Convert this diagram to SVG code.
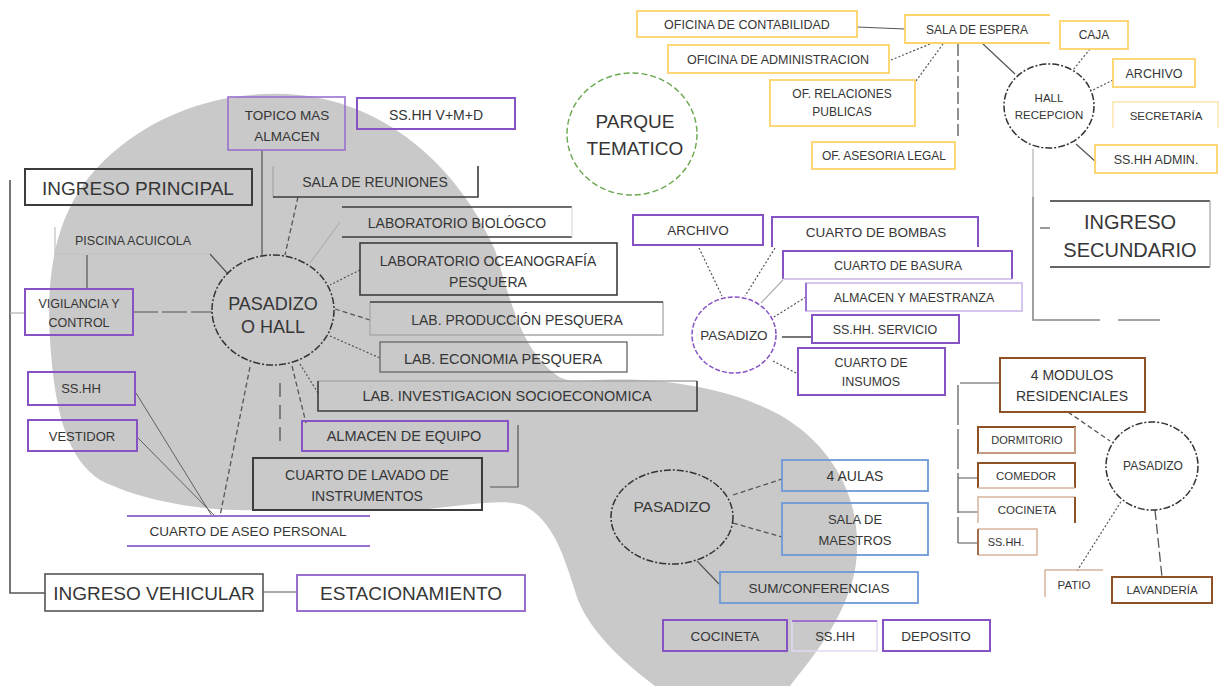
<svg xmlns="http://www.w3.org/2000/svg" width="1224" height="686" viewBox="0 0 1224 686">
<style>
text{font-family:"Liberation Sans",Arial,sans-serif;fill:#363636;text-anchor:middle}
.bk{fill:none;stroke:#3c3c3c;stroke-width:2}
.dg{fill:none;stroke:#555;stroke-width:1.6}
.gr{fill:none;stroke:#a8a8a8;stroke-width:1.3}
.pu{fill:none;stroke:#8753c4;stroke-width:2}
.lp{fill:none;stroke:#c9b3e6;stroke-width:1.5}
.ye{fill:none;stroke:#fdd36a;stroke-width:1.8}
.ly{fill:none;stroke:#fde5ad;stroke-width:1.5}
.bl{fill:none;stroke:#6f98d8;stroke-width:1.8}
.br{fill:none;stroke:#8f5128;stroke-width:2}
.lb{fill:none;stroke:#d6b49c;stroke-width:1.5}
.c{fill:none;stroke:#555;stroke-width:1.2}
.cl{fill:none;stroke:#b0b0b0;stroke-width:1.2}
.cd{fill:none;stroke:#555;stroke-width:1.3;stroke-dasharray:5 3}
.co{fill:none;stroke:#555;stroke-width:1.2;stroke-dasharray:2 2}
.circ{fill:none;stroke:#333;stroke-width:1.5;stroke-dasharray:7 2 2 2}
</style>

<path id="zona" fill="#c9c9c9" d="M50,340 C45,260 60,200 110,155 C160,110 230,88 300,95 C390,105 460,170 495,250 C510,300 520,340 545,365 C555,376 565,382 580,381 C640,376 720,382 780,415 C840,450 865,510 855,570 C845,620 810,660 790,686 L655,686 C620,660 590,630 578,600 C565,560 555,522 525,506 C505,498 470,505 420,510 L260,510 C200,512 140,500 100,480 C70,460 55,420 50,340 Z"/>

<g id="connectors">
  <path class="dg" d="M10,180 V593 H45"/>
  <path class="cl" d="M10,313 H25"/>
  <path class="c" d="M263,592 H297"/>
  <path class="c" d="M262,150 V255"/>
  <path class="cd" d="M298,197 L285,255"/>
  <path class="cl" d="M340,222 L310,263"/>
  <path class="co" d="M360,270 L330,285"/>
  <path class="cd" d="M335,309 L370,320"/>
  <path class="co" d="M330,336 L380,358"/>
  <path class="co" d="M300,364 L318,393"/>
  <path class="cd" d="M292,366 L306,423"/>
  <path class="cd" d="M280,383 V446" style="stroke-dasharray:14 8"/>
  <path class="cd" d="M250,367 L220,516"/>
  <path class="c" d="M136,393 L212,516" style="stroke-width:0.9"/>
  <path class="c" d="M138,438 L215,516" style="stroke-width:0.9"/>
  <path class="c" d="M133,312 H212" style="stroke-dasharray:25 4"/>
  <path class="c" d="M87,255 V289"/>
  <path class="c" d="M210,254 L228,274"/>
  <path class="c" d="M518,425 V487 H490"/>

  <path class="c" d="M857,27 L905,29"/>
  <path class="co" d="M891,60 L930,44"/>
  <path class="co" d="M916,81 L943,44"/>
  <path class="cd" d="M958,44 V140" style="stroke-dasharray:12 4"/>
  <path class="c" d="M982,43 L1015,74"/>
  <path class="co" d="M1090,49 L1073,70"/>
  <path class="co" d="M1113,80 L1093,90"/>
  <path class="c" d="M1076,144 L1096,162"/>
  <path class="cl" d="M1033,149 V197"/>
  <path class="dg" d="M1033,197 V320 H1100 M1118,320 H1160" style="stroke:#888"/>
  <path class="c" d="M1040,228 H1050"/>

  <path class="co" d="M699,248 L722,296"/>
  <path class="co" d="M775,248 L745,296"/>
  <path class="cl" d="M783,280 L761,303"/>
  <path class="co" d="M806,297 L774,317"/>
  <path class="c" d="M782,337 H812" style="stroke-width:1.6"/>
  <path class="co" d="M773,361 L798,374"/>

  <path class="cd" d="M733,495 L782,479"/>
  <path class="cd" d="M733,523 L782,537"/>
  <path class="c" d="M697,561 L719,584"/>

  <path class="c" d="M1000,383 H958 V543" style="stroke-dasharray:40 4"/>
  <path class="c" d="M958,478 H978 M958,512 H978 M958,543 H978"/>
  <path class="cd" d="M1068,412 L1110,441"/>
  <path class="co" d="M1077,571 L1122,500"/>
  <path class="cd" d="M1155,510 L1162,577" style="stroke-dasharray:10 4"/>
</g>

<g id="n-pasadizo-hall">
  <ellipse class="circ" cx="273" cy="310" rx="61" ry="55"/>
  <text x="273" y="310" font-size="18">PASADIZO</text>
  <text x="273" y="333" font-size="18">O HALL</text>
</g>
<g id="n-topico">
  <rect class="pu" x="228" y="97" width="117" height="53" style="stroke:#9a70cf;stroke-width:1.6"/>
  <text x="287" y="120" font-size="13.5">TOPICO MAS</text>
  <text x="287" y="141" font-size="13.5">ALMACEN</text>
</g>
<g id="n-sshh-vmd">
  <rect class="pu" x="357" y="98" width="158" height="31"/>
  <text x="436" y="120" font-size="14">SS.HH V+M+D</text>
</g>
<g id="n-ingreso-principal">
  <rect class="bk" x="25" y="169" width="227" height="36"/>
  <text x="138" y="195" font-size="19">INGRESO PRINCIPAL</text>
</g>
<g id="n-sala-reuniones">
  <path class="gr" d="M273,166 V197"/>
  <path class="bk" d="M273,197 H478 V166" style="stroke-width:1.6"/>
  <text x="375" y="187" font-size="14">SALA DE REUNIONES</text>
</g>
<g id="n-lab-bio">
  <path class="bk" d="M342,207 H572 M342,237 H572" style="stroke-width:1.6"/>
  <path class="gr" d="M572,207 V237" style="stroke:#ddd"/>
  <text x="457" y="228" font-size="14">LABORATORIO BIOLÓGCO</text>
</g>
<g id="n-lab-ocean">
  <rect class="bk" x="360" y="243" width="257" height="52" style="stroke-width:1.6"/>
  <text x="488" y="266" font-size="14">LABORATORIO OCEANOGRAFÍA</text>
  <text x="488" y="287" font-size="14">PESQUERA</text>
</g>
<g id="n-lab-prod">
  <path class="gr" d="M370,302 V335 H663 V302"/>
  <path class="bk" d="M370,302 H663" style="stroke-width:1.6"/>
  <text x="517" y="325" font-size="14">LAB. PRODUCCIÓN PESQUERA</text>
</g>
<g id="n-lab-eco">
  <rect class="dg" x="380" y="342" width="247" height="30" style="stroke:#666;stroke-width:1.3"/>
  <text x="503" y="364" font-size="14.5">LAB. ECONOMIA PESQUERA</text>
</g>
<g id="n-lab-inv">
  <path class="gr" d="M318,381 H697"/>
  <path class="bk" d="M318,381 V411 H697 V381" style="stroke-width:1.6"/>
  <text x="507" y="401" font-size="14.5">LAB. INVESTIGACION SOCIOECONOMICA</text>
</g>
<g id="n-almacen-equipo">
  <rect class="pu" x="302" y="421" width="206" height="30"/>
  <text x="404" y="441" font-size="14.5">ALMACEN DE EQUIPO</text>
</g>
<g id="n-lavado">
  <rect class="bk" x="253" y="458" width="229" height="52"/>
  <text x="367" y="480" font-size="14">CUARTO DE LAVADO DE</text>
  <text x="367" y="501" font-size="14">INSTRUMENTOS</text>
</g>
<g id="n-aseo">
  <path class="pu" d="M127,516 H370 M127,546 H370" style="stroke:#9a70cf"/>
  <text x="248" y="536" font-size="13.5">CUARTO DE ASEO PERSONAL</text>
</g>
<g id="n-sshh-left">
  <rect class="pu" x="28" y="372" width="107" height="33"/>
  <text x="81" y="393" font-size="13">SS.HH</text>
</g>
<g id="n-vestidor">
  <rect class="pu" x="28" y="420" width="109" height="31"/>
  <text x="82" y="441" font-size="13">VESTIDOR</text>
</g>
<g id="n-vigilancia">
  <rect class="pu" x="25" y="289" width="108" height="46"/>
  <text x="79" y="308" font-size="12.5">VIGILANCIA Y</text>
  <text x="79" y="327" font-size="12.5">CONTROL</text>
</g>
<g id="n-piscina">
  <path class="gr" d="M55,227 V254 H210" style="stroke:#c4c4c4"/>
  <text x="133" y="245" font-size="12.5">PISCINA ACUICOLA</text>
</g>
<g id="n-ingreso-vehicular">
  <rect class="dg" x="45" y="574" width="218" height="37"/>
  <text x="154" y="600" font-size="19">INGRESO VEHICULAR</text>
</g>
<g id="n-estacionamiento">
  <rect class="pu" x="297" y="575" width="228" height="36" style="stroke:#9a70cf"/>
  <text x="411" y="600" font-size="19">ESTACIONAMIENTO</text>
</g>

<g id="n-parque">
  <ellipse cx="632" cy="134" rx="65" ry="61" fill="none" stroke="#6aa84f" stroke-width="1.4" stroke-dasharray="6 3"/>
  <text x="635" y="128" font-size="19">PARQUE</text>
  <text x="635" y="155" font-size="19">TEMATICO</text>
</g>

<g id="n-contabilidad">
  <rect class="ye" x="637" y="11" width="220" height="26"/>
  <text x="747" y="29" font-size="12.5">OFICINA DE CONTABILIDAD</text>
</g>
<g id="n-sala-espera">
  <path class="ye" d="M1050,15 H905 V43 H1050"/>
  <text x="977" y="34" font-size="12">SALA DE ESPERA</text>
</g>
<g id="n-administracion">
  <rect class="ye" x="668" y="45" width="221" height="28"/>
  <text x="778" y="64" font-size="12.5">OFICINA DE ADMINISTRACION</text>
</g>
<g id="n-relaciones">
  <rect class="ye" x="770" y="80" width="145" height="46"/>
  <text x="842" y="98" font-size="12">OF. RELACIONES</text>
  <text x="842" y="116" font-size="12">PUBLICAS</text>
</g>
<g id="n-asesoria">
  <rect class="ye" x="812" y="142" width="143" height="27"/>
  <text x="884" y="160" font-size="12">OF. ASESORIA LEGAL</text>
</g>
<g id="n-hall-recepcion">
  <ellipse class="circ" cx="1049" cy="106" rx="45" ry="42"/>
  <text x="1049" y="102" font-size="11.5">HALL</text>
  <text x="1049" y="119" font-size="11.5">RECEPCION</text>
</g>
<g id="n-caja">
  <rect class="ye" x="1060" y="21" width="68" height="28"/>
  <text x="1094" y="39" font-size="12">CAJA</text>
</g>
<g id="n-archivo-adm">
  <rect class="ye" x="1113" y="59" width="82" height="28"/>
  <text x="1154" y="78" font-size="12.5">ARCHIVO</text>
</g>
<g id="n-secretaria">
  <path class="ly" d="M1113,128 V102 H1218 V128"/>
  <text x="1166" y="120" font-size="11.5">SECRETARÍA</text>
</g>
<g id="n-sshh-admin">
  <rect class="ye" x="1095" y="145" width="122" height="28"/>
  <text x="1156" y="164" font-size="12.5">SS.HH ADMIN.</text>
</g>
<g id="n-ingreso-secundario">
  <path class="dg" d="M1050,201 H1210 M1050,267 H1210" style="stroke:#666;stroke-width:2"/>
  <path class="gr" d="M1210,201 V267"/>
  <text x="1130" y="229" font-size="20">INGRESO</text>
  <text x="1130" y="257" font-size="20">SECUNDARIO</text>
</g>

<g id="n-pasadizo-serv">
  <ellipse cx="734" cy="335" rx="42" ry="38" fill="none" stroke="#8753c4" stroke-width="1.5" stroke-dasharray="5 2"/>
  <text x="734" y="340" font-size="13.5">PASADIZO</text>
</g>
<g id="n-archivo">
  <rect class="pu" x="633" y="215" width="130" height="30"/>
  <text x="698" y="235" font-size="13.5">ARCHIVO</text>
</g>
<g id="n-bombas">
  <path class="pu" d="M772,247 V217 H978 V247"/>
  <text x="876" y="237" font-size="13.5">CUARTO DE BOMBAS</text>
</g>
<g id="n-basura">
  <path class="pu" d="M783,279 V251 H1012 V279"/>
  <path class="lp" d="M783,279 H1012"/>
  <text x="898" y="270" font-size="12.5">CUARTO DE BASURA</text>
</g>
<g id="n-maestranza">
  <rect class="lp" x="806" y="283" width="216" height="28"/>
  <path class="pu" d="M806,283 V311" style="stroke-width:1.5"/>
  <text x="914" y="302" font-size="12.5">ALMACEN Y MAESTRANZA</text>
</g>
<g id="n-sshh-servicio">
  <rect class="pu" x="812" y="315" width="147" height="28"/>
  <text x="885" y="334" font-size="12.5">SS.HH. SERVICIO</text>
</g>
<g id="n-insumos">
  <rect class="pu" x="798" y="348" width="147" height="47"/>
  <text x="871" y="367" font-size="12.5">CUARTO DE</text>
  <text x="871" y="386" font-size="12.5">INSUMOS</text>
</g>

<g id="n-pasadizo-aulas">
  <ellipse class="circ" cx="672" cy="517" rx="61" ry="47"/>
  <text x="672" y="512" font-size="15.5">PASADIZO</text>
</g>
<g id="n-aulas">
  <rect class="bl" x="782" y="460" width="146" height="31"/>
  <text x="855" y="481" font-size="14">4 AULAS</text>
</g>
<g id="n-maestros">
  <rect class="bl" x="782" y="503" width="146" height="52"/>
  <text x="855" y="524" font-size="13">SALA DE</text>
  <text x="855" y="545" font-size="13">MAESTROS</text>
</g>
<g id="n-sum">
  <rect class="bl" x="720" y="572" width="198" height="31"/>
  <text x="819" y="593" font-size="13.5">SUM/CONFERENCIAS</text>
</g>
<g id="n-cocineta">
  <rect class="pu" x="663" y="620" width="124" height="31"/>
  <text x="725" y="641" font-size="13.5">COCINETA</text>
</g>
<g id="n-sshh-mid">
  <rect class="lp" x="792" y="621" width="85" height="30" style="stroke:#e3d7f2"/>
  <path class="pu" d="M792,621 H877" style="stroke-width:1.6"/>
  <text x="835" y="641" font-size="13">SS.HH</text>
</g>
<g id="n-deposito">
  <rect class="pu" x="883" y="620" width="107" height="31"/>
  <text x="936" y="641" font-size="13.5">DEPOSITO</text>
</g>

<g id="n-modulos">
  <rect class="br" x="1000" y="358" width="145" height="54"/>
  <text x="1072" y="380" font-size="14">4 MODULOS</text>
  <text x="1072" y="401" font-size="14">RESIDENCIALES</text>
</g>
<g id="n-dormitorio">
  <rect class="br" x="978" y="427" width="97" height="26"/>
  <path class="lb" d="M978,453 H1075 V427"/>
  <text x="1027" y="444" font-size="11">DORMITORIO</text>
</g>
<g id="n-comedor">
  <path class="br" d="M978,488 V463 H1075 V488"/>
  <path class="lb" d="M978,488 H1075"/>
  <text x="1026" y="480" font-size="11.5">COMEDOR</text>
</g>
<g id="n-cocineta-res">
  <path class="lb" d="M978,523 V497 H1075"/>
  <path class="br" d="M1075,497 V523"/>
  <text x="1027" y="514" font-size="11.5">COCINETA</text>
</g>
<g id="n-sshh-res">
  <path class="lb" d="M978,555 V529 H1037 V555 H978"/>
  <path class="br" d="M978,529 V555" style="stroke-width:1.5"/>
  <text x="1006" y="546" font-size="11">SS.HH.</text>
</g>
<g id="n-pasadizo-res">
  <ellipse class="circ" cx="1152" cy="466" rx="46" ry="44"/>
  <text x="1153" y="470" font-size="12">PASADIZO</text>
</g>
<g id="n-patio">
  <path class="lb" d="M1045,597 V570 H1103"/>
  <text x="1074" y="589" font-size="11.5">PATIO</text>
</g>
<g id="n-lavanderia">
  <rect class="br" x="1112" y="577" width="100" height="26"/>
  <text x="1162" y="594" font-size="11.5">LAVANDERÍA</text>
</g>
</svg>
